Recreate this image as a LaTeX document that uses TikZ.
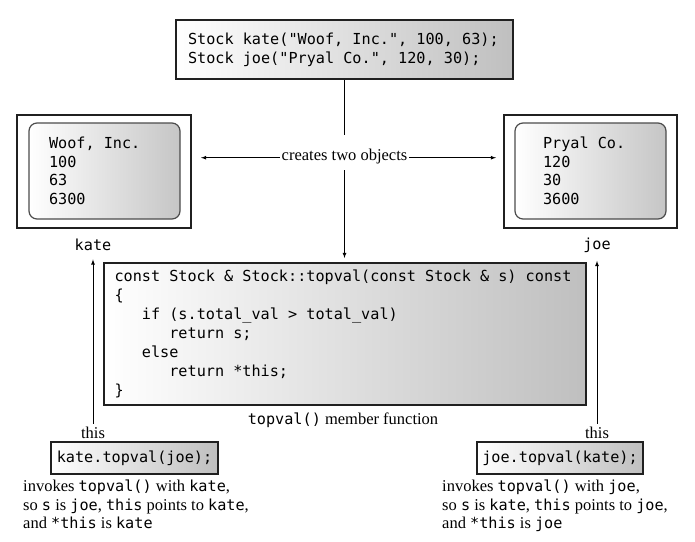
\documentclass[tikz,border=0pt]{standalone}
\usepackage{fontspec}
\setmainfont{Liberation Serif}
\setmonofont[Scale=0.92]{DejaVu Sans Mono}
\newcommand{\bigsz}{\fontsize{16.5}{19}\selectfont}
\newcommand{\codetxt}[1]{{\ttfamily #1}}
\tikzset{
  plainspace/.style={execute at begin node={\spaceskip=0pt\xspaceskip=0pt\frenchspacing}},
  codebox/.style={draw=gray!25!black, line width=2pt, left color=white, right color=gray!50, align=left, plainspace, font=\bigsz\ttfamily, inner ysep=0pt},
  objbox/.style={draw=gray!25!black, line width=2pt, fill=white},
  valbox/.style={draw=gray!60!black, line width=1.2pt, rounded corners=8pt, left color=white, right color=gray!45, align=left, plainspace, font=\fontsize{16.5}{18.5}\selectfont\ttfamily},
  conn/.style={line width=0.8pt, >=latex},
  note/.style={font=\fontsize{16.5}{18.5}\selectfont, align=left, plainspace, anchor=north west, inner sep=0pt},
}
\begin{document}
\begin{tikzpicture}[x=1pt,y=-1pt]
        \useasboundingbox (0,0) rectangle (695,541);
        % the two declarations
        \node[codebox, text width=313pt, inner xsep=12pt, minimum height=59pt] (decl) at (344.5,49.5) {Stock kate("Woof, Inc.", 100, 63);\\Stock joe("Pryal Co.", 120, 30);};
        \node[font=\bigsz, text height=25pt, text depth=10pt, inner xsep=2pt, inner ysep=0pt, anchor=base] (creates) at (344.5,160) {creates two objects};
        % the objects
        \node[objbox, minimum width=174pt, minimum height=113pt] (kateobj) at (104,171.5) {};
        \node[valbox, text width=111pt, inner xsep=20pt, minimum height=96pt] (kateval) at (104.5,171) {Woof, Inc.\\100\\63\\6300};
        \node[objbox, minimum width=173pt, minimum height=113pt] (joeobj) at (590.5,171.5) {};
        \node[valbox, text width=95pt, inner xsep=28pt, minimum height=96pt] (joeval) at (590.5,171) {Pryal Co.\\120\\30\\3600};
        \node[font=\bigsz\ttfamily] (katelbl) at (93,245) {kate};
        \node[font=\bigsz\ttfamily] (joelbl) at (597,245) {joe};
        % member function
        \node[codebox, text width=460pt, inner xsep=11pt, minimum height=142pt] (topval) at (344.5,334) {const Stock \& Stock::topval(const Stock \& s) const\\
            \{\\
            \phantom{xxx}if (s.total\_val > total\_val)\\
            \phantom{xxxxxx}return s;\\
            \phantom{xxx}else\\
            \phantom{xxxxxx}return *this;\\
            \}};
        \node[font=\bigsz] (caption) at (343,420) {\codetxt{topval()} member function};
        % the calls
        \node[font=\bigsz] (katethis) at (93,433) {this};
        \node[font=\bigsz] (joethis) at (597,433) {this};
        \node[codebox, inner xsep=5.5pt, minimum height=32pt] (katecall) at (134.5,458) {kate.topval(joe);};
        \node[codebox, inner xsep=5.5pt, minimum height=32pt] (joecall) at (560,458) {joe.topval(kate);};
        \node[note] (katenote) at (23,480) {invokes \codetxt{topval()} with \codetxt{kate},\\so \codetxt{s} is \codetxt{joe}, \codetxt{this} points to \codetxt{kate},\\and \codetxt{*this} is \codetxt{kate}};
        \node[note] (joenote) at (442,480) {invokes \codetxt{topval()} with \codetxt{joe},\\so \codetxt{s} is \codetxt{kate}, \codetxt{this} points to \codetxt{joe},\\and \codetxt{*this} is \codetxt{joe}};
        % connectors
        \draw[conn] (decl) -- (creates);
        \draw[conn,->,shorten >=4pt] (creates) -- (topval);
        \draw[conn,->,shorten >=9pt] (creates.mid west) -- (creates.mid west -| kateobj.east);
        \draw[conn,->,shorten >=7pt] (creates.mid east) -- (creates.mid east -| joeobj.west);
        \draw[conn,->,shorten >=5pt] (katethis) -- (katelbl);
        \draw[conn,->,shorten >=5pt] (joethis) -- (joelbl);
\end{tikzpicture}
\end{document}
